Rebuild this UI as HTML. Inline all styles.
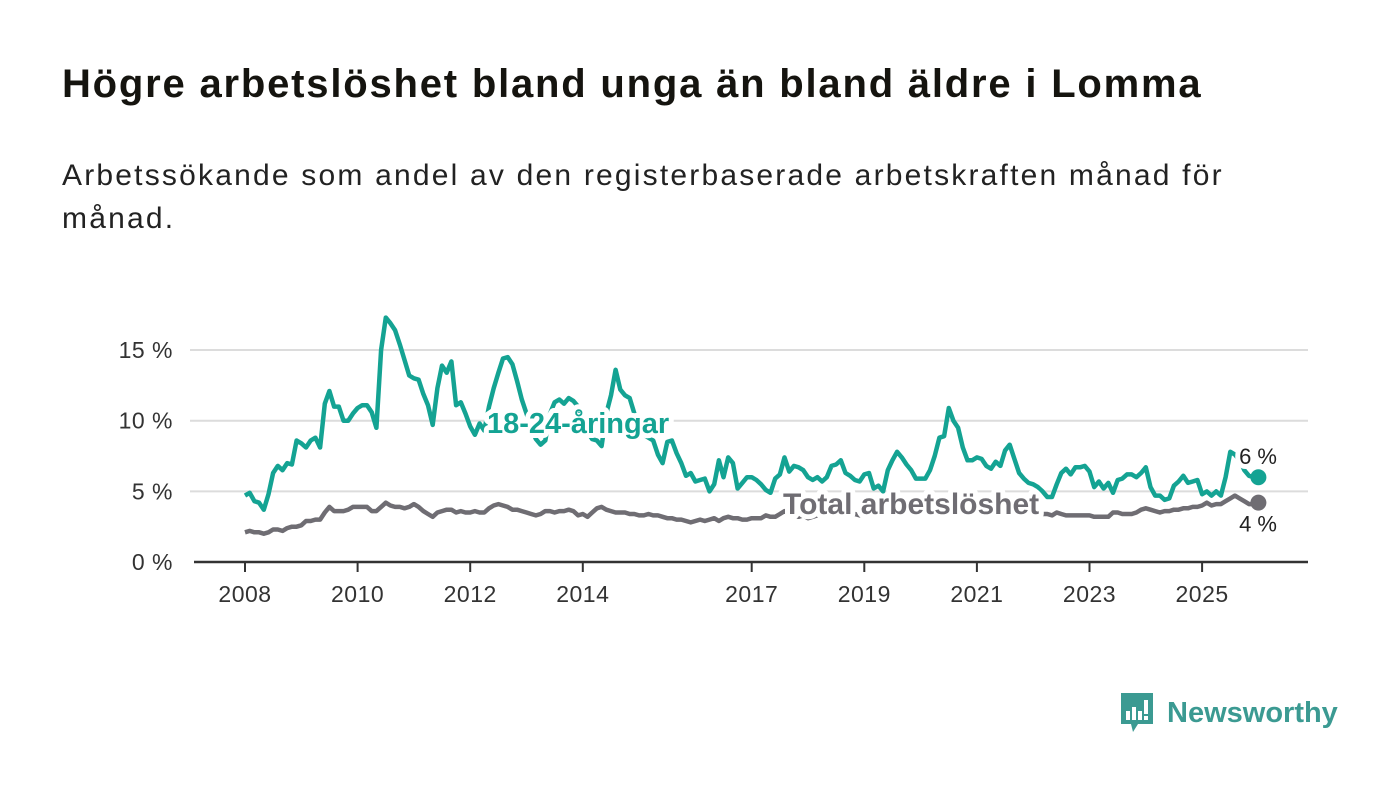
<!DOCTYPE html>
<html><head><meta charset="utf-8">
<style>
html,body{margin:0;padding:0;background:#fff;width:1400px;height:794px;overflow:hidden;font-family:"Liberation Sans","DejaVu Sans",sans-serif;}
#title{position:absolute;left:62px;top:62px;font-size:40px;font-weight:bold;color:#15140f;margin:0;letter-spacing:1.8px;white-space:nowrap}
#subtitle{position:absolute;left:62px;top:154px;width:1250px;font-size:30px;line-height:43px;color:#222;margin:0;letter-spacing:2.2px}
#chart{position:absolute;left:0;top:0}
#logo{position:absolute;left:1119px;top:692px;display:flex;align-items:center}
</style></head><body>
<h1 id="title">Högre arbetslöshet bland unga än bland äldre i Lomma</h1>
<p id="subtitle">Arbetssökande som andel av den registerbaserade arbetskraften månad för<br>månad.</p>
<svg id="chart" width="1400" height="794"></svg>
<div id="logo">
<svg width="36" height="42"><path d="M2 1h32v31H19l-5 8-2-8H2z" fill="#3b9a92"/><rect x="7" y="19" width="4" height="9" fill="#fff"/><rect x="13" y="15" width="4" height="13" fill="#fff"/><rect x="19" y="19" width="4" height="9" fill="#fff"/><rect x="25" y="8" width="4" height="14" fill="#fff"/><rect x="25" y="24" width="4" height="4" fill="#fff"/></svg>
<span style="font-size:29px;color:#3b9a92;margin-left:12px;font-weight:bold">Newsworthy</span>
</div>
<script>
const yTicks=[0,5,10,15];
const xTickYears=[2008,2010,2012,2014,2017,2019,2021,2023,2025];
const youth=[4.7,4.9,4.3,4.2,3.7,4.8,6.3,6.8,6.5,7.0,6.9,8.6,8.4,8.1,8.6,8.8,8.1,11.2,12.1,11.0,11.0,10.0,10.0,10.5,10.9,11.1,11.1,10.6,9.5,15.0,17.3,16.9,16.4,15.4,14.3,13.2,13.0,12.9,11.9,11.1,9.7,12.3,13.9,13.4,14.2,11.1,11.3,10.5,9.6,9.0,9.8,9.3,11.0,12.3,13.4,14.4,14.5,14.0,12.8,11.5,10.5,9.5,8.7,8.3,8.6,10.5,11.3,11.5,11.2,11.6,11.4,11.0,10.0,9.2,8.7,8.6,8.2,10.5,11.8,13.6,12.2,11.8,11.6,10.5,10.0,9.0,8.8,8.6,7.6,7.0,8.5,8.6,7.7,7.0,6.1,6.3,5.7,5.8,5.9,5.0,5.5,7.2,6.0,7.4,7.0,5.2,5.6,6.0,6.0,5.8,5.5,5.1,4.9,5.9,6.2,7.4,6.4,6.8,6.7,6.5,6.0,5.8,6.0,5.7,6.0,6.8,6.9,7.2,6.3,6.1,5.8,5.7,6.2,6.3,5.2,5.4,5.0,6.5,7.2,7.8,7.4,6.9,6.5,5.9,5.9,5.9,6.5,7.5,8.8,8.9,10.9,10.0,9.5,8.1,7.2,7.2,7.4,7.3,6.8,6.6,7.1,6.8,7.9,8.3,7.3,6.3,5.9,5.6,5.5,5.3,5.0,4.6,4.6,5.5,6.3,6.6,6.2,6.7,6.7,6.8,6.4,5.3,5.7,5.2,5.6,4.9,5.8,5.9,6.2,6.2,6.0,6.3,6.7,5.3,4.7,4.7,4.4,4.5,5.4,5.7,6.1,5.6,5.7,5.8,4.8,5.0,4.7,5.0,4.7,6.0,7.8,7.6,7.2,6.5,6.1,6.0,6.0];
const total=[2.1,2.2,2.1,2.1,2.0,2.1,2.3,2.3,2.2,2.4,2.5,2.5,2.6,2.9,2.9,3.0,3.0,3.5,3.9,3.6,3.6,3.6,3.7,3.9,3.9,3.9,3.9,3.6,3.6,3.9,4.2,4.0,3.9,3.9,3.8,3.9,4.1,3.9,3.6,3.4,3.2,3.5,3.6,3.7,3.7,3.5,3.6,3.5,3.5,3.6,3.5,3.5,3.8,4.0,4.1,4.0,3.9,3.7,3.7,3.6,3.5,3.4,3.3,3.4,3.6,3.6,3.5,3.6,3.6,3.7,3.6,3.3,3.4,3.2,3.5,3.8,3.9,3.7,3.6,3.5,3.5,3.5,3.4,3.4,3.3,3.3,3.4,3.3,3.3,3.2,3.1,3.1,3.0,3.0,2.9,2.8,2.9,3.0,2.9,3.0,3.1,2.9,3.1,3.2,3.1,3.1,3.0,3.0,3.1,3.1,3.1,3.3,3.2,3.2,3.4,3.6,3.4,3.3,3.2,3.3,3.1,3.2,3.3,3.4,3.3,3.4,3.5,3.4,3.3,3.3,3.4,3.3,3.4,3.5,3.4,3.3,3.4,3.5,3.5,3.6,3.5,3.5,3.4,3.5,3.6,3.7,3.8,4.0,4.3,4.4,4.4,4.3,4.2,4.1,4.0,3.9,3.9,3.8,3.8,3.7,3.6,3.6,3.7,3.6,3.5,3.5,3.4,3.4,3.4,3.5,3.4,3.4,3.3,3.5,3.4,3.3,3.3,3.3,3.3,3.3,3.3,3.2,3.2,3.2,3.2,3.5,3.5,3.4,3.4,3.4,3.5,3.7,3.8,3.7,3.6,3.5,3.6,3.6,3.7,3.7,3.8,3.8,3.9,3.9,4.0,4.2,4.0,4.1,4.1,4.3,4.5,4.7,4.5,4.3,4.1,4.1,4.2];
const startYear=2008;
const NS='http://www.w3.org/2000/svg';
const svg=document.getElementById('chart');
const x0=245, pxPerYear=56.3;
const xScale=m=>x0+m*pxPerYear/12;
const yScale=v=>562-v*14.13;
function mk(tag,attrs){const e=document.createElementNS(NS,tag);for(const k in attrs)e.setAttribute(k,attrs[k]);svg.appendChild(e);return e;}
yTicks.forEach(t=>{
  if(t>0){const g=mk('line',{x1:190,x2:1308,y1:yScale(t),y2:yScale(t),stroke:'#dcdcdc','stroke-width':2});
  
  }
  const tx=mk('text',{x:173,y:yScale(t)+8,'text-anchor':'end','font-size':23,fill:'#333','letter-spacing':0.5});
  tx.textContent=t+' %';
  
  
});
const ax=mk('line',{x1:194,x2:1308,y1:562,y2:562,stroke:'#333','stroke-width':2.5});


xTickYears.forEach(yr=>{
  const x=xScale((yr-startYear)*12);
  const tk=mk('line',{x1:x,x2:x,y1:562,y2:572,stroke:'#333','stroke-width':2});
  
  
  const tx=mk('text',{x:x,y:602,'text-anchor':'middle','font-size':23,fill:'#333','letter-spacing':0.5});
  tx.textContent=yr;
  
  
});
function line(arr,color,name){
  const d=arr.map((v,i)=>(i?'L':'M')+xScale(i).toFixed(1)+' '+yScale(v).toFixed(1)).join('');
  const p=mk('path',{d:d,fill:'none',stroke:color,'stroke-width':4.5,'stroke-linejoin':'round'});
  
  
  const li=arr.length-1;
  const c=mk('circle',{cx:xScale(li),cy:yScale(arr[li]),r:8,fill:color});
  
  
}
line(total,'#6f6d73','total-line');
line(youth,'#14a393','youth-line');
function label(txt,x,y,color,size,weight,anchor,name){
  const t=mk('text',{x:x,y:y,'font-size':size,'font-weight':weight,fill:color,stroke:'#fff','stroke-width':10,'paint-order':'stroke','stroke-linejoin':'round','text-anchor':anchor});
  t.textContent=txt;
  
  
}
label('18-24-åringar',487,433,'#14a393',29,'bold','start','youth-series-label');
label('Total arbetslöshet',783,514,'#6f6d73',30,'bold','start','total-series-label');
const li=youth.length-1;
label(Math.round(youth[li])+' %',1277,yScale(youth[li])-13,'#222',22,'normal','end','youth-end-value');
label(Math.round(total[li])+' %',1277,yScale(total[li])+29,'#222',22,'normal','end','total-end-value');
</script>
</body></html>
